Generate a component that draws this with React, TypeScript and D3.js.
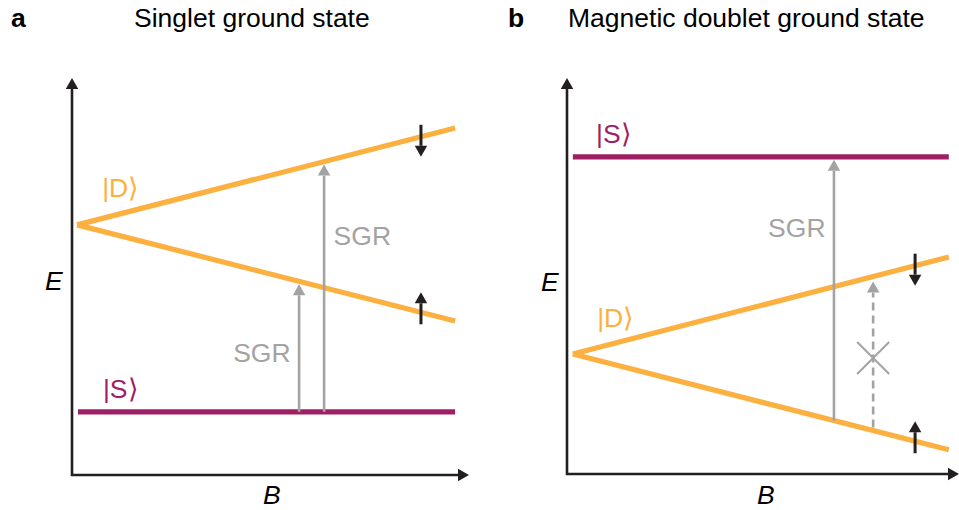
import React from "react";
import * as d3 from "d3";

const ORANGE = "#fbb040";
const PURPLE = "#9e1f63";
const GRAY = "#a3a3a3";
const DARK = "#231f20";
const FONT = "'Liberation Sans', Arial, Helvetica, sans-serif";
const FS = 26.5;

const panelLetters = ["a", "b"];
const panelTitles = ["Singlet ground state", "Magnetic doublet ground state"];
const axisNames = ["B", "E"];

// Energy levels, in (B, E) units on a 0..100 grid
const levelsA = [
  { id: "S", color: PURPLE, B: [1.5, 96.5], E: [15.9, 15.9] },
  { id: "Dup", color: ORANGE, B: [1.3, 96.5], E: [63.0, 87.4] },
  { id: "Ddn", color: ORANGE, B: [1.3, 96.5], E: [63.0, 38.8] },
];
const levelsB = [
  { id: "S", color: PURPLE, B: [1.5, 97.4], E: [80.1, 80.1] },
  { id: "Dup", color: ORANGE, B: [1.5, 97.4], E: [30.3, 54.8] },
  { id: "Ddn", color: ORANGE, B: [1.5, 97.4], E: [30.3, 6.1] },
];

// Transitions (vertical arrows)
const transitionsA = [
  { B: 57.2, from: "S", to: "Ddn", dashed: false },
  { B: 63.5, from: "S", to: "Dup", dashed: false },
];
const transitionsB = [
  { B: 68.1, from: "Ddn", to: "S", dashed: false },
  { B: 78.1, from: "Ddn", to: "Dup", dashed: true },
];
const forbiddenB = [{ B: 78.1, E: 29.3 }];

// Spin arrows
const spinsA = [
  { B: 87.9, level: "Dup", dir: "down" },
  { B: 87.9, level: "Ddn", dir: "up" },
];
const spinsB = [
  { B: 88.8, level: "Dup", dir: "down" },
  { B: 88.8, level: "Ddn", dir: "up" },
];

// Text labels
const labelsA = [
  { text: "|S\u27E9", B: 7.8, E: 19.4, color: PURPLE },
  { text: "|D\u27E9", B: 7.6, E: 70.0, color: ORANGE },
  { text: "SGR", B: 65.9, E: 57.9, color: GRAY },
  { text: "SGR", B: 40.6, E: 28.5, color: GRAY },
];
const labelsB = [
  { text: "|S\u27E9", B: 7.4, E: 83.6, color: PURPLE },
  { text: "|D\u27E9", B: 7.7, E: 37.1, color: ORANGE },
  { text: "SGR", B: 51.3, E: 59.8, color: GRAY },
];

const panels = [
  { ox: 72, oy: 475, xTip: 469, yTip: 78, titleX: 134, letterX: 11, levels: levelsA, transitions: transitionsA, spins: spinsA, labels: labelsA, forbidden: [] as { B: number; E: number }[], eLabelX: 45, eLabelY: 290, bLabelX: 263, bLabelY: 504 },
  { ox: 567, oy: 474, xTip: 959, yTip: 78, titleX: 568, letterX: 508, levels: levelsB, transitions: transitionsB, spins: spinsB, labels: labelsB, forbidden: forbiddenB, eLabelX: 541, eLabelY: 291, bLabelX: 757, bLabelY: 504 },
];

function levelAt(lv: { B: number[]; E: number[] }, b: number) {
  const t = (b - lv.B[0]) / (lv.B[1] - lv.B[0]);
  return lv.E[0] + t * (lv.E[1] - lv.E[0]);
}

function arrowHead(x: number, y: number, dir: "up" | "down" | "right", len = 11, w = 12.5) {
  if (dir === "up") return `M${x},${y} L${x - w / 2},${y + len} L${x + w / 2},${y + len} Z`;
  if (dir === "down") return `M${x},${y} L${x - w / 2},${y - len} L${x + w / 2},${y - len} Z`;
  return `M${x},${y} L${x - len},${y - w / 2} L${x - len},${y + w / 2} Z`;
}

function Panel({ p, idx }: { p: (typeof panels)[number]; idx: number }) {
  const x = d3.scaleLinear().domain([0, 100]).range([p.ox, p.xTip]);
  const y = d3.scaleLinear().domain([0, 100]).range([p.oy, p.yTip]);
  const line = d3
    .line<[number, number]>()
    .x((d) => x(d[0]))
    .y((d) => y(d[1]));
  const byId: Record<string, (typeof p.levels)[number]> = {};
  p.levels.forEach((l) => (byId[l.id] = l));

  return (
    <g>
      <text x={p.letterX} y={27} fontSize={FS} fontWeight="bold" fontFamily={FONT} fill="#000">
        {panelLetters[idx]}
      </text>
      <text x={p.titleX} y={27} fontSize={FS} fontFamily={FONT} fill="#000">
        {panelTitles[idx]}
      </text>

      {/* axes */}
      <path
        d={`M${p.ox},${p.yTip + 10} L${p.ox},${p.oy} L${p.xTip - 10},${p.oy}`}
        fill="none"
        stroke={DARK}
        strokeWidth={2.6}
        strokeLinejoin="miter"
      />
      <path d={arrowHead(p.ox, p.yTip, "up")} fill={DARK} />
      <path d={arrowHead(p.xTip, p.oy, "right")} fill={DARK} />
      <text x={p.eLabelX} y={p.eLabelY} fontSize={FS} fontStyle="italic" fontFamily={FONT} fill="#000">
        {axisNames[1]}
      </text>
      <text x={p.bLabelX} y={p.bLabelY} fontSize={FS} fontStyle="italic" fontFamily={FONT} fill="#000">
        {axisNames[0]}
      </text>

      {/* levels */}
      {p.levels.map((l, i) => (
        <path
          key={i}
          d={line([
            [l.B[0], l.E[0]],
            [l.B[1], l.E[1]],
          ])!}
          stroke={l.color}
          strokeWidth={5.2}
          fill="none"
          strokeLinecap="butt"
        />
      ))}

      {/* transitions */}
      {p.transitions.map((t, i) => {
        const y0 = y(levelAt(byId[t.from], t.B));
        const y1 = y(levelAt(byId[t.to], t.B));
        const up = y1 < y0;
        const gap = t.dashed ? 5 : 3;
        const tip = up ? y1 + gap : y1 - gap;
        const start = up ? y0 - (t.dashed ? 3 : 0) : y0;
        const headBase = up ? tip + 11 : tip - 11;
        const xx = x(t.B);
        return (
          <g key={i}>
            <line
              x1={xx}
              x2={xx}
              y1={start}
              y2={headBase}
              stroke={GRAY}
              strokeWidth={2.6}
              strokeDasharray={t.dashed ? "8,5" : undefined}
            />
            <path d={arrowHead(xx, tip, up ? "up" : "down")} fill={GRAY} />
          </g>
        );
      })}

      {/* forbidden cross */}
      {p.forbidden.map((f, i) => {
        const cx = x(f.B);
        const cy = y(f.E);
        const h = 16;
        return (
          <g key={i} stroke={GRAY} strokeWidth={2}>
            <line x1={cx - h} y1={cy - h} x2={cx + h} y2={cy + h} />
            <line x1={cx - h} y1={cy + h} x2={cx + h} y2={cy - h} />
          </g>
        );
      })}

      {/* spin arrows */}
      {p.spins.map((s, i) => {
        const ly = y(levelAt(byId[s.level], s.B));
        const xx = x(s.B);
        const down = s.dir === "down";
        const tail = down ? ly - 12 : ly + 12;
        const tip = down ? ly + 20 : ly - 20;
        const base = down ? tip - 11 : tip + 11;
        return (
          <g key={i}>
            <line x1={xx} x2={xx} y1={tail} y2={base} stroke={DARK} strokeWidth={3} />
            <path d={arrowHead(xx, tip, down ? "down" : "up")} fill={DARK} />
          </g>
        );
      })}

      {/* labels */}
      {p.labels.map((l, i) => (
        <text key={i} x={x(l.B)} y={y(l.E)} fontSize={FS} fontFamily={FONT} fill={l.color}>
          {l.text}
        </text>
      ))}
    </g>
  );
}

export default function App() {
  return (
    <svg
      width={959}
      height={510}
      viewBox="0 0 959 510"
      style={{ position: "absolute", left: 0, top: 0, display: "block", background: "#fff" }}
    >
      <rect width={959} height={510} fill="#fff" />
      {panels.map((p, i) => (
        <Panel key={i} p={p} idx={i} />
      ))}
    </svg>
  );
}
